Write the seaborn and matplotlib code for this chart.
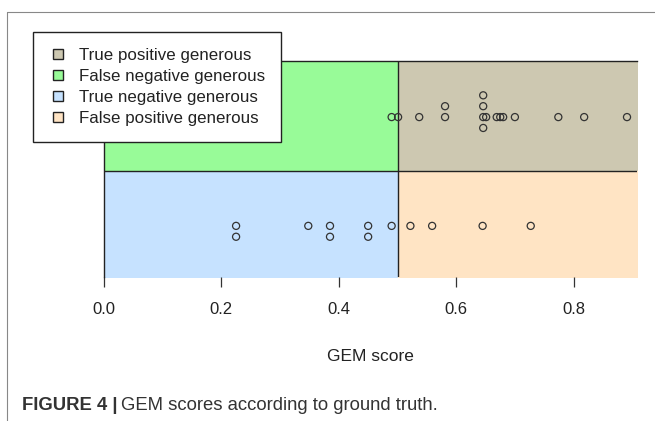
import numpy as np
import pandas as pd
import seaborn as sns
import matplotlib.pyplot as plt
from matplotlib.lines import Line2D

top_scores = [0.490, 0.501, 0.537, 0.581, 0.581, 0.646, 0.646, 0.646, 0.646,
              0.651, 0.669, 0.675, 0.680, 0.700, 0.774, 0.818, 0.891]
top_stack = [0, 0, 0, 0, 1, 0, 1, 2, -1, 0, 0, 0, 0, 0, 0, 0, 0]
bottom_scores = [0.225, 0.225, 0.348, 0.385, 0.385, 0.450, 0.450,
                 0.490, 0.522, 0.559, 0.645, 0.727]
bottom_stack = [0, -1, 0, 0, -1, 0, -1, 0, 0, 0, 0, 0]

legend_labels = ['True positive generous', 'False negative generous',
                 'True negative generous', 'False positive generous']
region_colors = ['#CDC8B1', '#98FB98', '#C6E2FF', '#FFE4C4']
x_ticks = [0.0, 0.2, 0.4, 0.6, 0.8]
threshold = 0.5

# Build a long table for seaborn
df = pd.DataFrame({
    'score': top_scores + bottom_scores,
    'row': [2] * len(top_scores) + [1] * len(bottom_scores),
    'stack': top_stack + bottom_stack,
})
df['y'] = df['row'] + df['stack'] * 0.1

sns.set_style('white')
plt.rcParams['font.family'] = ['Liberation Sans', 'DejaVu Sans']

fig = plt.figure(figsize=(6.55, 4.21), dpi=100)
ax = fig.add_axes([0.1588, 0.342, 0.8137, 0.513])
ax.set_xlim(0, 0.908)
ax.set_ylim(0.53, 2.515)

# Coloured quadrants (threshold split x ground truth split)
ax.fill_between([threshold, 1.0], 1.5, 3, color=region_colors[0], lw=0, zorder=0)
ax.fill_between([0, threshold], 1.5, 3, color=region_colors[1], lw=0, zorder=0)
ax.fill_between([0, threshold], 0, 1.5, color=region_colors[2], lw=0, zorder=0)
ax.fill_between([threshold, 1.0], 0, 1.5, color=region_colors[3], lw=0, zorder=0)
ax.axvline(threshold, color='#222222', lw=1.0, zorder=1)
ax.axhline(1.5, color='#222222', lw=1.0, zorder=1)

sns.scatterplot(data=df, x='score', y='y', ax=ax, marker='o', s=26,
                facecolor='none', edgecolor='#333333', linewidth=0.9,
                legend=False, zorder=3)

# Axis styling: only top and left lines, ticks on the bottom
for side in ['bottom', 'right']:
    ax.spines[side].set_visible(False)
for side in ['top', 'left']:
    ax.spines[side].set_color('#222222')
    ax.spines[side].set_linewidth(1.0)
ax.set_yticks([])
ax.set_xticks(x_ticks)
ax.set_xticklabels([f'{t:.1f}' for t in x_ticks])
ax.tick_params(axis='x', bottom=True, length=7, width=0.9, color='#333333',
               pad=11, labelsize=12, labelcolor='#222222')
ax.set_xlabel('GEM score', fontsize=12.5, color='#222222', labelpad=23)
ax.set_ylabel('')

# Legend with small square swatches
handles = [Line2D([], [], ls='none', marker='s', markersize=7.5,
                  markerfacecolor=c, markeredgecolor='#222222', markeredgewidth=1.0)
           for c in region_colors]
leg = fig.legend(handles, legend_labels, loc='upper left',
                 bbox_to_anchor=(33 / 655, 1 - 32 / 421), fontsize=12.2,
                 frameon=True, fancybox=False, framealpha=1, edgecolor='#222222',
                 handlelength=1.05, handletextpad=0.7,
                 labelspacing=0.36, borderpad=0.95, borderaxespad=0)
leg.get_frame().set_linewidth(1.0)
for t in leg.get_texts():
    t.set_color('#222222')

# Page frame lines and caption
fig.add_artist(Line2D([7 / 655, 7 / 655], [0, 1 - 12 / 421], color='#888888', lw=0.8))
fig.add_artist(Line2D([7 / 655, 1], [1 - 12 / 421, 1 - 12 / 421], color='#888888', lw=0.8))
cap = fig.text(22 / 655, 1 - 405 / 421, 'FIGURE 4 |', fontsize=13.3,
               fontweight='bold', color='#333333', va='center')
fig.canvas.draw()
bb = cap.get_window_extent()
fig.text(bb.x1 / fig.bbox.width + 0.006, 1 - 405 / 421,
         'GEM scores according to ground truth.', fontsize=13.3,
         color='#333333', va='center')

plt.savefig('out.png', dpi=100)
